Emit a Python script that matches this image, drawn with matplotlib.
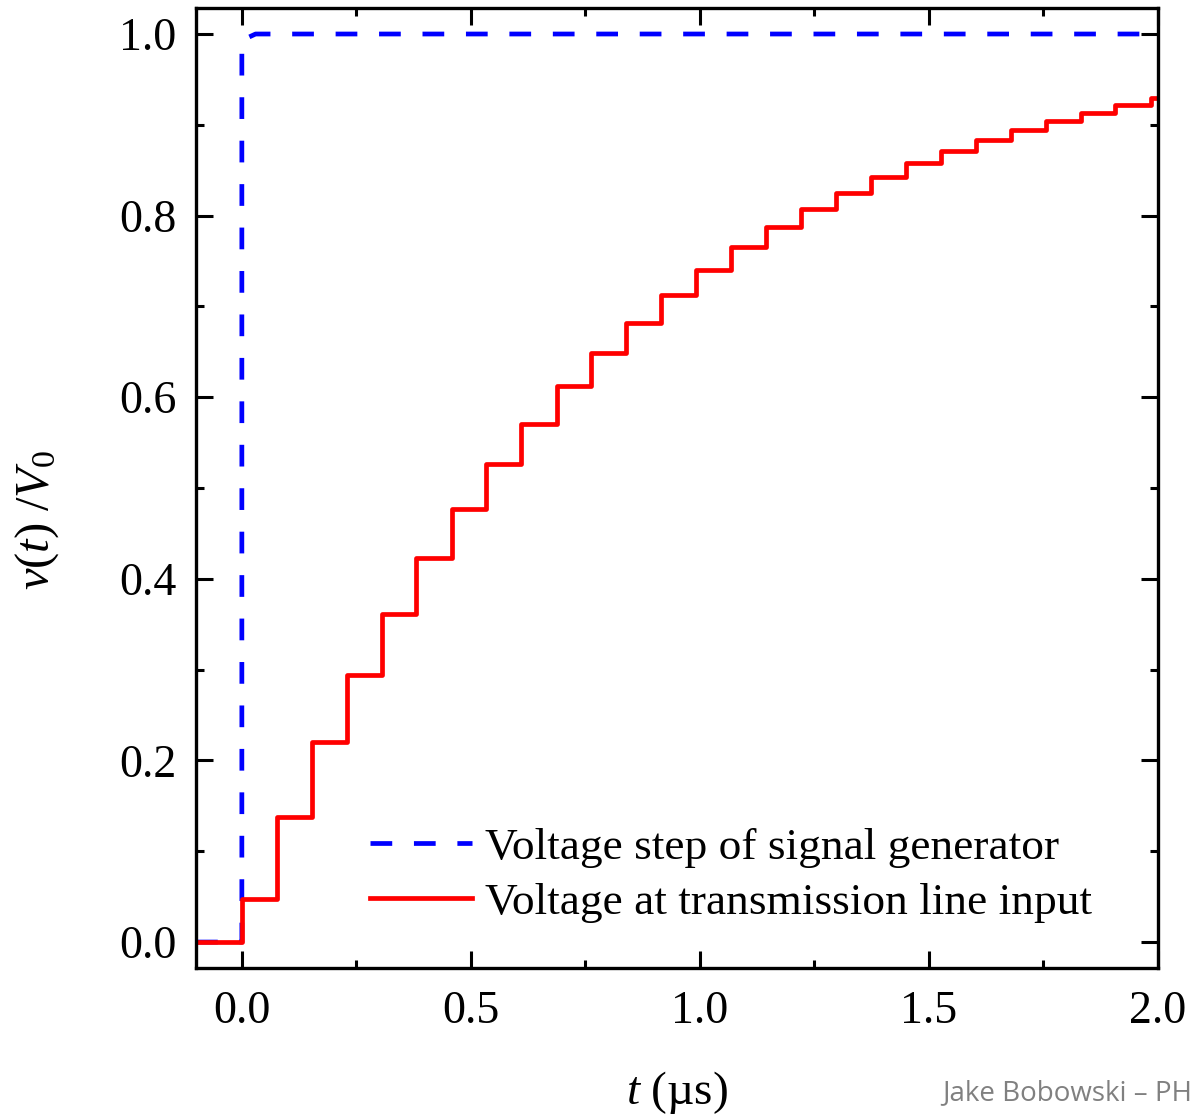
import numpy as np
import matplotlib
matplotlib.use('Agg')
import matplotlib.pyplot as plt
from matplotlib.ticker import MultipleLocator, FormatStrFormatter

plt.rcParams['font.family'] = ['Liberation Serif', 'DejaVu Serif']
plt.rcParams['mathtext.fontset'] = 'custom'
plt.rcParams['mathtext.rm'] = 'Liberation Serif'
plt.rcParams['mathtext.it'] = 'Liberation Serif:italic'

#%% data
# signal generator step (blue dashed)
gen_t = [-0.1, 0.0, 0.0, 0.03, 2.0]
gen_v = [0.0, 0.0, 0.993, 1.0, 1.0]

# staircase at the transmission line input (red), value holds from each time
step_t = [-0.1, 0.0, 0.076, 0.153, 0.229, 0.305, 0.381, 0.458, 0.534, 0.610,
          0.687, 0.763, 0.839, 0.916, 0.992, 1.068, 1.144, 1.221, 1.297,
          1.373, 1.450, 1.526, 1.602, 1.679, 1.755, 1.831, 1.907, 1.984, 2.0]
step_v = [0.0, 0.047, 0.138, 0.220, 0.294, 0.361, 0.423, 0.477, 0.527, 0.571,
          0.612, 0.649, 0.682, 0.713, 0.740, 0.765, 0.788, 0.807, 0.825,
          0.842, 0.858, 0.871, 0.883, 0.894, 0.904, 0.913, 0.922, 0.929, 0.929]

labels = ['Voltage step of signal generator', 'Voltage at transmission line input']

#%% figure
fig = plt.figure(figsize=(11.91, 11.16), dpi=100)
ax = fig.add_axes([0.1646, 0.1326, 0.8077, 0.8602])

ax.plot(gen_t, gen_v, color='#0000FF', lw=3.4, linestyle=(0, (4.6, 4.6)), label=labels[0])
ax.step(step_t, step_v, where='post', color='#FF0000', lw=3.4, label=labels[1])

ax.set_xlim(-0.1, 2.0)
ax.set_ylim(-0.0286, 1.0286)

ax.xaxis.set_major_locator(MultipleLocator(0.5))
ax.xaxis.set_minor_locator(MultipleLocator(0.25))
ax.yaxis.set_major_locator(MultipleLocator(0.2))
ax.yaxis.set_minor_locator(MultipleLocator(0.1))
ax.xaxis.set_major_formatter(FormatStrFormatter('%.1f'))
ax.yaxis.set_major_formatter(FormatStrFormatter('%.1f'))

ax.tick_params(which='both', direction='in', top=True, right=True, width=2.2)
ax.tick_params(which='major', length=12, labelsize=33)
ax.tick_params(axis='x', which='major', pad=16)
ax.tick_params(axis='y', which='major', pad=14)
ax.tick_params(which='minor', length=6)

for sp in ax.spines.values():
    sp.set_linewidth(2.4)

ax.set_xlabel(r'$t$ (µs)', fontsize=34)
ax.set_ylabel(r'$v(t)\ /V_0$', fontsize=35)
ax.xaxis.set_label_coords(0.5, -0.105)
ax.yaxis.set_label_coords(-0.14, 0.467)

ax.legend(loc='lower left', bbox_to_anchor=(0.181, 0.047), frameon=False,
          fontsize=32.7, handlelength=2.25, handletextpad=0.28,
          labelspacing=0.32, borderpad=0, borderaxespad=0)

# footer text, runs off the right edge as in the slide
fig.text(942 / 1191, 1 - 1093 / 1116, 'Jake Bobowski – PHYS', color='#808080',
         fontsize=20, family=['Open Sans', 'DejaVu Sans'], va='center', ha='left')

plt.savefig('out.png', dpi=100)
plt.close()
